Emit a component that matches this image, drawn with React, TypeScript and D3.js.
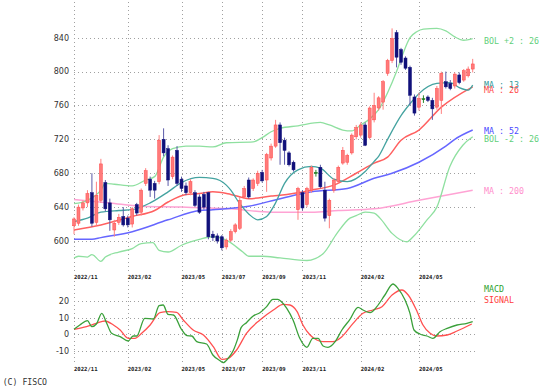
import React from "react";
import * as d3 from "d3";

// ---- candle data (weekly) ----
const opens = [618,621,639,645,657,622,648,669,645,613,622,629,627,620,643,634,668,673,668,670,720,709,676,707,673,665,657,657,652,655,657,608,606,605,593,601,611,615,652,672,662,668,681,672,698,712,737,719,704,693,637,657,643,660,681,687,660,630,660,670,692,693,704,723,725,737,722,743,757,764,798,813,846,826,816,805,770,758,768,770,766,758,766,788,786,783,796,790,795,803];
const highs = [628,643,648,660,680,670,697,672,650,625,632,640,630,640,645,662,686,676,671,725,733,713,701,712,676,669,673,660,655,658,658,612,609,607,603,614,621,652,665,675,674,683,684,704,715,743,740,722,706,695,664,660,664,689,684,690,670,650,674,689,711,703,727,737,740,740,759,775,771,790,815,851,849,828,818,807,773,775,772,772,769,783,800,800,790,799,799,803,806,815];
const lows = [608,618,636,640,617,618,645,635,612,605,619,617,616,616,630,630,665,652,650,667,700,665,673,665,658,654,654,640,632,637,602,600,597,589,590,599,609,613,650,650,659,665,669,658,695,710,690,690,688,682,625,636,640,657,676,662,623,615,657,668,690,690,702,720,722,712,720,740,754,755,795,810,805,808,802,760,748,754,763,764,743,755,750,780,778,780,785,788,793,799];
const closes = [626,640,645,656,621,654,691,638,625,621,628,619,619,638,633,660,683,660,660,719,704,672,699,668,662,657,670,642,634,640,605,604,600,592,601,611,619,648,662,652,672,680,671,702,712,737,716,707,690,684,662,639,662,687,681,664,627,648,672,687,707,701,725,734,737,713,757,760,769,788,813,839,817,811,804,772,751,768,768,766,756,780,798,782,780,797,787,801,803,809];

// ---- indicator lines: [week index, value] ----
const ma13: [number, number][] = [[0,623],[3,627],[6,634],[10,636],[13,637],[17,645],[21,658],[24,669],[28,675],[31,674],[34,666],[35,660],[37,644],[39,632],[41,625],[43,629],[45,645],[47,668],[50,684],[53,688],[55,686],[58,673],[61,670],[65,682],[67,694],[68,700],[70,720],[73,748],[75,762],[77,774],[81,786],[84,787],[86,781],[88,778],[89,784]];
const ma26: [number, number][] = [[0,613],[6,619],[13,629],[18,636],[21,646],[25,655],[28,656],[31,658],[35,655],[39,650],[44,653],[46,654],[53,660],[58,666],[63,680],[67,692],[70,699],[73,719],[77,731],[82,758],[89,782]];
const ma52: [number, number][] = [[0,602],[4,602],[6,604],[13,611],[21,625],[28,636],[31,637],[39,641],[46,650],[51,656],[53,658],[61,662],[67,674],[71,680],[77,693],[83,712],[85,720],[89,731]];
const ma200: [number, number][] = [[0,649],[8,645],[15,641],[24,640],[35,638],[44,634],[53,634],[59,636],[67,638],[77,648],[89,660]];
const bolUp: [number, number][] = [[0,644],[3,648],[6,660],[7,668],[9,667],[13,665],[16,672],[18,676],[20,699],[22,709],[25,712],[28,712],[31,711],[34,716],[40,717],[42,722],[44,729],[46,733],[50,736],[55,740],[57,737],[60,731],[62,730],[64,737],[66,744],[68,755],[70,775],[72,800],[73.5,822],[75,840],[76.5,847],[78,850],[81,851],[83,848],[85,841],[87,837],[89,839]];
const bolDn: [number, number][] = [[0,580],[1,582],[3,581],[4,584],[6,576],[7,581],[10,587],[13,591],[15,597],[17.6,598],[19,589],[21,587],[24,595],[26,599],[28,602],[31,605],[34,601],[37.7,587],[39,582],[42,582],[46,580],[52,577],[55.6,585],[58.7,609],[61.6,627],[63,630],[65,634],[67,633],[68.3,627],[71,609],[74.3,599],[75.7,605],[78.8,625],[81,640],[83.9,688],[86.8,713],[89,723]];
const macd: [number, number][] = [[0,3],[1.3,5.6],[3,8.2],[4,4.6],[5,6.2],[6.2,12.6],[7.3,6.6],[8.4,0.6],[10.3,-1.4],[12.1,-4],[13.2,-1],[14,-1],[15.8,9.6],[17.7,9.2],[19,17.2],[19.9,17.6],[21,12],[22.2,11.6],[24,3],[25.2,-0.8],[26.3,-1],[27.4,-4.4],[29.6,-5.8],[31,-12.4],[32.6,-15.8],[33.3,-17],[34.4,-14.4],[35.5,-10],[36.5,-3],[37.3,4],[38.5,7],[40,11],[41.5,13],[43,16.6],[44.4,21],[45.5,21],[46.3,19.6],[47.5,15.6],[48.9,8.6],[50.4,-2.4],[52,-7.8],[53.3,-2.4],[54.5,-2.4],[55.6,-7],[56.7,-7.8],[58.3,-4.4],[59.8,2.6],[61.6,9],[63.4,16.2],[64.5,14.6],[66.1,13],[67.6,16.6],[69.4,23.6],[71.2,30.2],[72.3,27.6],[73.9,20.6],[75,12.6],[75.9,2.6],[77.2,0.2],[78.8,-1],[80.1,-2.4],[81.7,1.6],[83.3,3.6],[85.5,5.6],[87.7,6.6],[89,7.6]];
const signal: [number, number][] = [[0,3],[2.8,4.6],[5,6.6],[6.9,8],[8.8,5.6],[10.3,2.6],[12.1,-2.4],[13.6,-2.4],[15.1,0.6],[17,5.6],[19.2,13],[21,13.6],[22.9,13.2],[24.4,8.6],[26.6,2.6],[28.9,-0.4],[31.1,-7.4],[33,-15],[34.4,-14.4],[36.3,-9.4],[38.5,0.6],[41.5,8.6],[44.5,14.6],[46.7,18],[48.2,17.6],[49.8,13.6],[51.1,5.6],[52.7,-0.4],[54.2,-3.4],[55.6,-4.4],[57.8,-4.4],[59.8,-1.4],[62.3,6.6],[64.5,12.6],[66.7,14.6],[68.75,16.6],[71,23.6],[73.2,26.6],[74.6,23.6],[76.6,13.6],[77.9,5.6],[79.5,0.6],[81,-1],[83.3,-0.4],[85.5,2],[88.8,6.2]];

// ---- axes ----
const dateTickIdx = [0, 12, 24, 33, 42, 51, 64, 77];
const dateTickLabels = ["2022/11", "2023/02", "2023/05", "2023/07", "2023/09", "2023/11", "2024/02", "2024/05"];
const priceTicks = [600, 640, 680, 720, 760, 800, 840];
const macdTicks = [-10, 0, 10, 20];

const legendMain = [
  { text: "BOL +2 : 26", color: "#5fcf7a", y: 44 },
  { text: "MA : 13", color: "#339a9a", y: 87.5 },
  { text: "MA : 26", color: "#ff4a4a", y: 92.5 },
  { text: "MA : 52", color: "#4a4aff", y: 133.5 },
  { text: "BOL -2 : 26", color: "#5fcf7a", y: 141.7 },
  { text: "MA : 200", color: "#ff8fcc", y: 194 },
];
const legendMacd = [
  { text: "MACD", color: "#2ea12e", y: 292 },
  { text: "SIGNAL", color: "#ff3b3b", y: 302.7 },
];

export default function App() {
  const left = 74, right = 475;
  const x = d3.scaleLinear().domain([0, 89]).range([74, 472.7]);
  const y = d3.scaleLinear().domain([600, 840]).range([241, 37.7]);
  const ym = d3.scaleLinear().domain([-10, 20]).range([351, 301]);

  const lineP = d3.line<[number, number]>().x(d => x(d[0])).y(d => y(d[1])).curve(d3.curveMonotoneX);
  const lineM = d3.line<[number, number]>().x(d => x(d[0])).y(d => ym(d[1])).curve(d3.curveMonotoneX);

  const grid = "#a0a0a0";
  const monoFont = "'DejaVu Sans Mono', monospace";
  const sansFont = "'DejaVu Sans', sans-serif";

  return (
    <svg width={551} height={392} style={{ position: "absolute", left: 0, top: 0, background: "#fff" }}>
      {/* main grid */}
      {priceTicks.map(t => (
        <g key={"p" + t}>
          <line x1={left} x2={right} y1={Math.round(y(t)) + 0.5} y2={Math.round(y(t)) + 0.5} stroke={grid} strokeDasharray="1,3" />
          <text x={69} y={y(t) + 2.9} textAnchor="end" fontFamily={sansFont} fontSize={8} fill="#333">{t}</text>
        </g>
      ))}
      {dateTickIdx.map((d, k) => (
        <g key={"d" + d}>
          <line x1={Math.round(x(d)) + 0.5} x2={Math.round(x(d)) + 0.5} y1={2} y2={272} stroke={grid} strokeDasharray="1,3" />
          <line x1={Math.round(x(d)) + 0.5} x2={Math.round(x(d)) + 0.5} y1={281} y2={365} stroke={grid} strokeDasharray="1,3" />
          <text x={x(d)} y={279} fontFamily={monoFont} fontWeight="bold" fontSize={5.6} fill="#222">{dateTickLabels[k]}</text>
          <text x={x(d)} y={371} fontFamily={monoFont} fontWeight="bold" fontSize={5.6} fill="#222">{dateTickLabels[k]}</text>
        </g>
      ))}
      {/* indicator lines */}
      <path d={lineP(ma200) || ""} fill="none" stroke="#ffa3d4" strokeWidth={1.5} />
      <path d={lineP(bolUp) || ""} fill="none" stroke="#8fe0a0" strokeWidth={1.3} />
      <path d={lineP(bolDn) || ""} fill="none" stroke="#8fe0a0" strokeWidth={1.3} />
      <path d={lineP(ma52) || ""} fill="none" stroke="#6666ff" strokeWidth={1.5} />
      <path d={lineP(ma26) || ""} fill="none" stroke="#ff6060" strokeWidth={1.5} />
      <path d={lineP(ma13) || ""} fill="none" stroke="#44a3a0" strokeWidth={1.3} />
      {/* candles */}
      {closes.map((c, i) => {
        const o = opens[i];
        const up = c > o;
        const doji = c === o;
        const cx = x(i);
        const wick = doji ? "#2a8a2a" : up ? "#ff8080" : "#5a5aa8";
        const body = doji ? "#1d7a1d" : up ? "#ff7a7a" : "#10107a";
        const stroke = doji ? "#1d7a1d" : up ? "#ff4a4a" : "#10107a";
        const top = y(Math.max(o, c));
        const h = Math.max(1, Math.abs(y(o) - y(c)));
        return (
          <g key={"c" + i}>
            <line x1={cx} x2={cx} y1={y(highs[i])} y2={y(lows[i])} stroke={wick} strokeWidth={1} />
            <rect x={cx - 1.5} y={top} width={3} height={h} fill={body} stroke={stroke} strokeWidth={0.5} />
          </g>
        );
      })}
      {legendMain.map(l => (
        <text key={l.text} x={484} y={l.y} fontFamily={monoFont} fontSize={8.3} fill={l.color}>{l.text}</text>
      ))}
      {/* MACD panel */}
      {macdTicks.map(t => (
        <g key={"m" + t}>
          <line x1={left} x2={right} y1={Math.round(ym(t)) + 0.5} y2={Math.round(ym(t)) + 0.5} stroke={grid} strokeDasharray="1,3" />
          <text x={69} y={ym(t) + 2.9} textAnchor="end" fontFamily={sansFont} fontSize={8} fill="#333">{t}</text>
        </g>
      ))}
      <path d={lineM(signal) || ""} fill="none" stroke="#ff5050" strokeWidth={1.3} />
      <path d={lineM(macd) || ""} fill="none" stroke="#3aa03a" strokeWidth={1.3} />
      {legendMacd.map(l => (
        <text key={l.text} x={484} y={l.y} fontFamily={monoFont} fontSize={8.3} fill={l.color}>{l.text}</text>
      ))}
      <text x={2.7} y={384.5} fontFamily={monoFont} fontSize={8.2} fill="#333">(C) FISCO</text>
    </svg>
  );
}
